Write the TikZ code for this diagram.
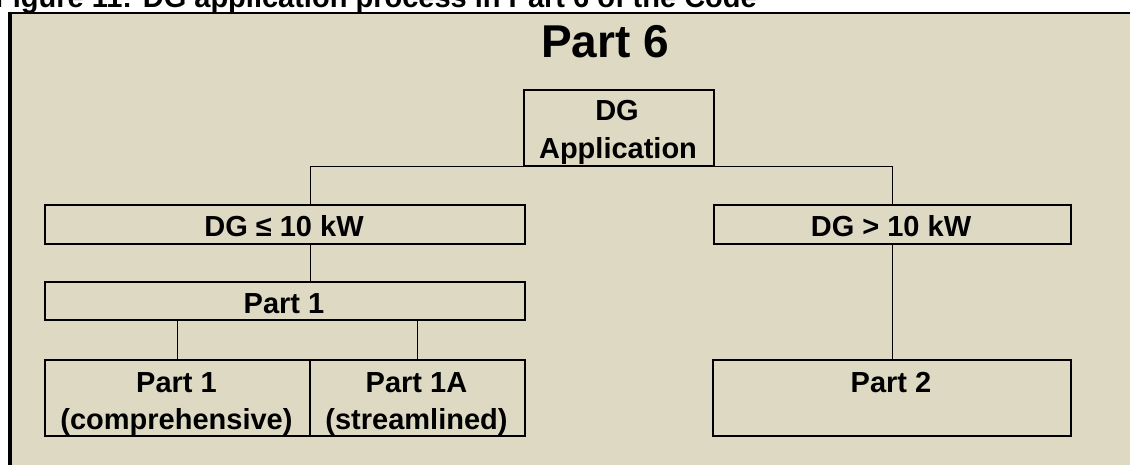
\documentclass[tikz,border=0pt]{standalone}
\usepackage{fontspec}
\setmainfont{Liberation Sans}
\definecolor{tanbg}{HTML}{DDD9C3}
\begin{document}
\begin{tikzpicture}[x=1pt,y=-1pt,
  box/.style={draw=black, line width=1.5pt, inner sep=0pt, anchor=north west},
  lbl/.style={font=\fontsize{29}{34}\selectfont\bfseries, inner sep=0pt, anchor=base},
  conn/.style={draw=black, line width=1.4pt}]
\useasboundingbox (0,0) rectangle (1130,464);
% frame
\fill[tanbg] (8,13) rectangle (1140,470);
\draw[line width=2pt] (8,13) -- (1140,13);
\draw[line width=3.5pt] (9.75,12) -- (9.75,470);
% caption (cut off at the picture's edge)
\node[lbl, anchor=base east] (cap) at (757,7.5) {Figure 11: DG application process in Part 6 of the Code};
% title
\node[lbl, font=\fontsize{46}{52}\selectfont\bfseries] (title) at (605,57) {Part 6};
% boxes
\node[box, minimum width=190pt, minimum height=76pt] (app) at (523,89) {};
\node[box, minimum width=480pt, minimum height=39pt] (le) at (44,204) {};
\node[box, minimum width=357pt, minimum height=39pt] (ge) at (713,204) {};
\node[box, minimum width=480pt, minimum height=38pt] (p1) at (44,281) {};
\node[box, minimum width=265pt, minimum height=76pt] (c1) at (44,359) {};
\node[box, minimum width=215pt, minimum height=76pt] (c2) at (309,359) {};
\node[box, minimum width=358pt, minimum height=76pt] (p2) at (712,359) {};
% texts
\node[lbl] (appa) at (617,120) {DG};
\node[lbl] (appb) at (618,158) {Application};
\node[lbl] (let) at (284,236) {DG ≤ 10 kW};
\node[lbl] (get) at (891,236) {DG > 10 kW};
\node[lbl] (p1t) at (284,313) {Part 1};
\node[lbl] (c1a) at (176.5,392) {Part 1};
\node[lbl] (c1b) at (176.5,429) {(comprehensive)};
\node[lbl] (c2a) at (416.5,392) {Part 1A};
\node[lbl] (c2b) at (416.5,429) {(streamlined)};
\node[lbl] (p2t) at (891,392) {Part 2};
% connectors
\draw[conn] (c1.east |- le.north) |- (app.south) -| (ge.north);
\draw[conn] (c1.east |- le.south) -- (c1.east |- p1.north);
\draw[conn] (c1.north |- p1.south) -- (c1.north);
\draw[conn] (c2.north |- p1.south) -- (c2.north);
\draw[conn] (ge.south) -- (p2.north -| ge.south);
\end{tikzpicture}
\end{document}
